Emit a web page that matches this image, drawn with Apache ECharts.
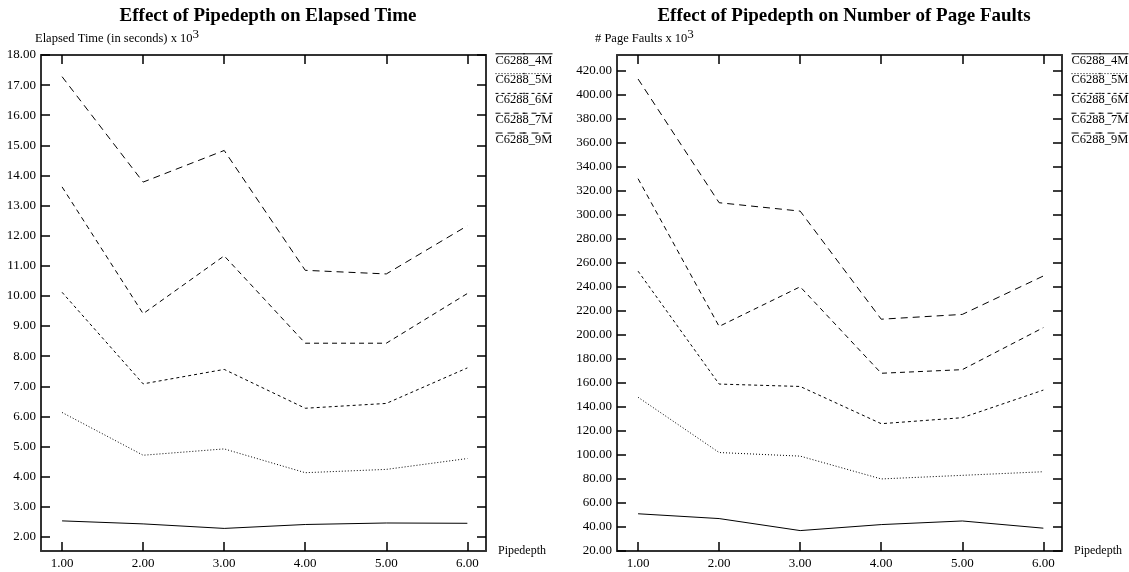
<!DOCTYPE html>
<html>
<head>
<meta charset="utf-8">
<script src="https://cdn.jsdelivr.net/npm/echarts@6/dist/echarts.min.js"></script>
<style>
  html, body { margin: 0; padding: 0; background: #fff; }
  #chart { width: 1129px; height: 572px; }
</style>
</head>
<body>
<div id="chart"></div>
<script>
const pipedepth = [1, 2, 3, 4, 5, 6];
const seriesNames = ['C6288_4M', 'C6288_5M', 'C6288_6M', 'C6288_7M', 'C6288_9M'];

// elapsed time, seconds x 10^3
const time4M = [2.53, 2.43, 2.28, 2.41, 2.46, 2.45];
const time5M = [6.13, 4.71, 4.92, 4.13, 4.24, 4.60];
const time6M = [10.12, 7.08, 7.56, 6.27, 6.43, 7.61];
const time7M = [13.62, 9.41, 11.33, 8.43, 8.43, 10.08];
const time9M = [17.28, 13.78, 14.83, 10.85, 10.73, 12.33];

// page faults x 10^3
const faults4M = [51, 47, 37, 42, 45, 39];
const faults5M = [148, 102, 99, 80, 83, 86];
const faults6M = [253, 159, 157, 126, 131, 154];
const faults7M = [330, 207, 240, 168, 171, 206];
const faults9M = [413, 310, 303, 213, 217, 249];

const xTicks = [1, 2, 3, 4, 5, 6];
const timeTicks = [2, 3, 4, 5, 6, 7, 8, 9, 10, 11, 12, 13, 14, 15, 16, 17, 18];
const faultTicks = [20, 40, 60, 80, 100, 120, 140, 160, 180, 200, 220, 240, 260, 280, 300, 320, 340, 360, 380, 400, 420];

const timeData = [time4M, time5M, time6M, time7M, time9M];
const faultData = [faults4M, faults5M, faults6M, faults7M, faults9M];

const FONT = 'Liberation Serif';
const dashes = ['solid', [1, 2], [3, 3], [5, 4], [7, 5]];

const chart = echarts.init(document.getElementById('chart'));

const axisLine = { show: true, lineStyle: { color: '#333', width: 2 } };
const tickStyle = { color: '#000', width: 1.5 };

// 一组坐标轴（下/上 x，左/右 y）
const makeX = (gridIndex, showLabel) => ({
  type: 'value',
  gridIndex,
  position: showLabel ? 'bottom' : 'top',
  min: 0.74,
  max: 6.23,
  name: showLabel ? 'Pipedepth' : '',
  nameLocation: 'end',
  nameGap: 12,
  nameTextStyle: { fontFamily: FONT, fontSize: 12, color: '#000' },
  axisLine,
  axisTick: { show: true, inside: true, length: 9, lineStyle: tickStyle, customValues: xTicks },
  axisLabel: {
    show: showLabel,
    customValues: xTicks,
    formatter: v => v.toFixed(2),
    fontFamily: FONT, fontSize: 13, color: '#000', margin: 6
  },
  splitLine: { show: false }
});

const makeY = (gridIndex, showLabel, min, max, ticks, name, nameShift) => ({
  type: 'value',
  gridIndex,
  position: showLabel ? 'left' : 'right',
  min,
  max,
  name: showLabel ? name : '',
  nameLocation: 'end',
  nameGap: 6,
  nameTextStyle: {
    fontFamily: FONT, fontSize: 12.5, color: '#000', align: 'left',
    padding: [0, 0, 0, nameShift || 0],
    rich: { sup: { fontFamily: FONT, fontSize: 13, color: '#000', padding: [0, 0, 8, 0] } }
  },
  axisLine,
  axisTick: { show: true, inside: true, length: 9, lineStyle: tickStyle, customValues: ticks },
  axisLabel: {
    show: showLabel,
    customValues: ticks,
    formatter: v => v.toFixed(2),
    fontFamily: FONT, fontSize: 13, color: '#000', margin: 5
  },
  splitLine: { show: false }
});

const makeSeries = (data, axisIndex) => data.map((values, i) => ({
  name: seriesNames[i],
  type: 'line',
  xAxisIndex: axisIndex,
  yAxisIndex: axisIndex,
  data: values.map((v, k) => [pipedepth[k], v]),
  symbol: 'none',
  lineStyle: { color: '#000', width: 1, type: dashes[i] },
  itemStyle: { color: '#000' },
  silent: true
}));

// 图例：线样本画在文字上方
const makeLegend = (left) => ({
  orient: 'vertical',
  left,
  top: 48,
  data: seriesNames,
  itemWidth: 57,
  itemHeight: 2,
  itemGap: 6,
  lineStyle: { width: 1 },
  formatter: name => '{t|' + name + '}',
  textStyle: {
    fontFamily: FONT, fontSize: 12.5, color: '#000', padding: [0, 0, 0, -62],
    rich: { t: { fontFamily: FONT, fontSize: 12.5, color: '#000', padding: [13, 0, 0, 0] } }
  },
  selectedMode: false
});

const option = {
  animation: false,
  backgroundColor: '#fff',
  title: [
    { text: 'Effect of Pipedepth on Elapsed Time', left: 263, top: 2, textAlign: 'center',
      textStyle: { fontFamily: FONT, fontSize: 19, fontWeight: 'bold', color: '#000' } },
    { text: 'Effect of Pipedepth on Number of Page Faults', left: 839, top: 2, textAlign: 'center',
      textStyle: { fontFamily: FONT, fontSize: 19, fontWeight: 'bold', color: '#000' } }
  ],
  legend: [makeLegend(490), makeLegend(1066)],
  grid: [
    { left: 41, top: 55, width: 445, height: 496 },
    { left: 617, top: 55, width: 445, height: 496 }
  ],
  xAxis: [makeX(0, true), makeX(1, true), makeX(0, false), makeX(1, false)],
  yAxis: [
    makeY(0, true, 1.53, 18, timeTicks, 'Elapsed Time (in seconds) x 10{sup|3}', -6),
    makeY(1, true, 20, 433, faultTicks, '# Page Faults x 10{sup|3}', -22),
    makeY(0, false, 1.53, 18, timeTicks, ''),
    makeY(1, false, 20, 433, faultTicks, '')
  ],
  series: [...makeSeries(timeData, 0), ...makeSeries(faultData, 1)]
};

chart.setOption(option);
</script>
</body>
</html>
